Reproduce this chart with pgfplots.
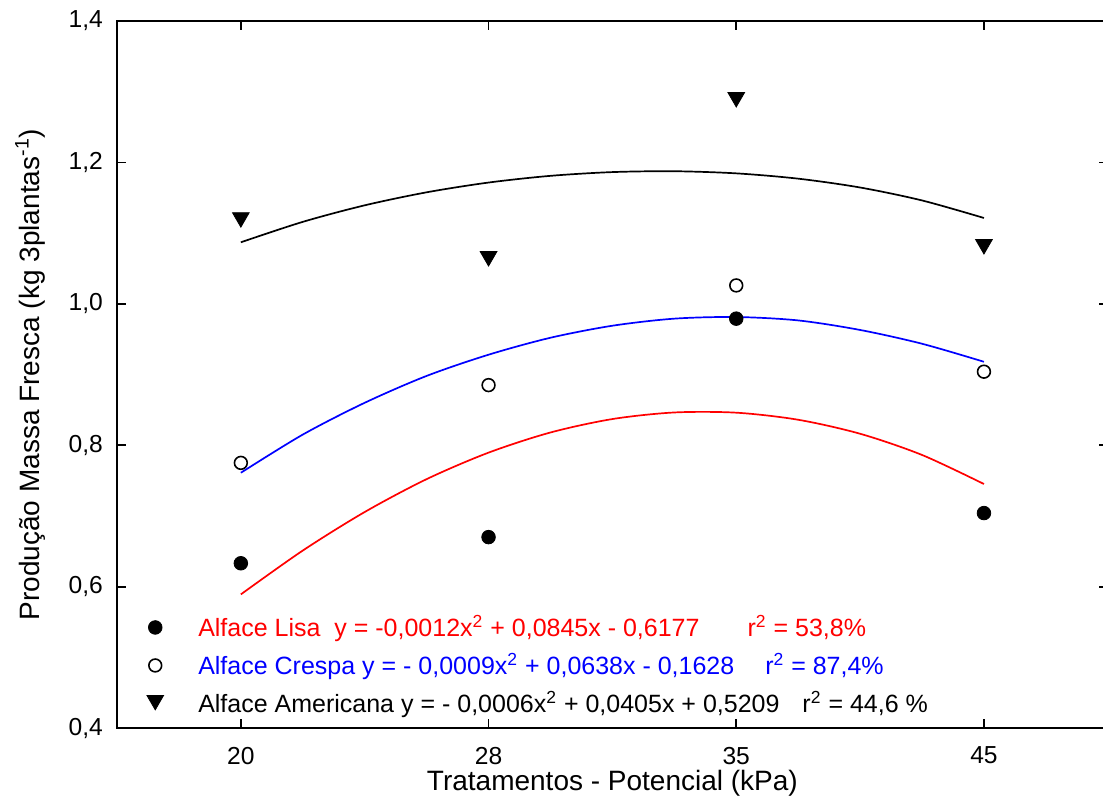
\documentclass[border=0pt]{standalone}
\usepackage{pgfplots}
\pgfplotsset{compat=1.18}
\usepackage{fontspec}
\setmainfont{Liberation Sans}
\pgfplotsset{
  circ legend/.style={legend image code/.code={\path[draw=none] (-8pt,0pt) -- (21.5pt,0pt); \draw[##1] plot coordinates {(0pt,1.6pt)};}},
  tri legend/.style={legend image code/.code={\path[draw=none] (-8pt,0pt) -- (21.5pt,0pt); \draw[##1] plot coordinates {(0pt,3.2pt)};}},
}
\begin{document}
\begin{tikzpicture}
\begin{axis}[
  name=ax,
  scale only axis,
  width=495.4pt, height=353.5pt,
  xmin=0.5, xmax=4.5, ymin=0.4, ymax=1.4,
  xtick={1,2,3,4}, xticklabels={20,28,35,45},
  ytick={0.4,0.6,0.8,1.0,1.2,1.4},
  /pgf/number format/assume math mode=true,
  /pgf/number format/use comma,
  /pgf/number format/fixed,
  /pgf/number format/fixed zerofill,
  /pgf/number format/precision=1,
  tick align=inside,
  xtick pos=both, ytick pos=both,
  major tick length=4.5pt,
  every tick/.style={black, line width=0.9pt},
  axis line style={line width=1pt},
  ticklabel style={font=\fontsize{12.3}{14}\selectfont},
  xticklabel style={anchor=north, yshift=-6pt},
  yticklabel style={anchor=east, xshift=-3.5pt},
  xlabel={Tratamentos - Potencial (kPa)},
  ylabel={Produção Massa Fresca (kg 3plantas\textsuperscript{-1})},
  label style={font=\fontsize{14}{16}\selectfont},
  xlabel style={at={(axis description cs:0.5,-0.0778)}, anchor=center},
  ylabel style={at={(axis description cs:-0.0878,0.5)}, anchor=center},
  legend style={draw=none, fill=none, at={(rel axis cs:0.016,0.007)}, anchor=south west,
    font=\fontsize{12.5}{14}\selectfont, row sep=7pt,
    nodes={inner sep=0pt, text height=9pt, text depth=3pt}},
  legend cell align=left,
]
% fitted curves
\addplot[red, line width=0.85pt, smooth, no marks, forget plot] coordinates {
 (1.0,0.589) (1.25,0.651) (1.5,0.7055) (1.75,0.752) (2.0,0.7895) (2.25,0.818) (2.5,0.837) (2.75,0.8463) (3.0,0.846) (3.25,0.836) (3.5,0.8162) (3.75,0.7862) (4.0,0.7451)};
\addplot[blue, line width=0.85pt, smooth, no marks, forget plot] coordinates {
 (1.0,0.761) (1.25,0.815) (1.5,0.860) (1.75,0.898) (2.0,0.928) (2.25,0.952) (2.5,0.969) (2.75,0.979) (3.0,0.9813) (3.25,0.9765) (3.5,0.963) (3.75,0.9435) (4.0,0.918)};
\addplot[black, line width=0.85pt, smooth, no marks, forget plot] coordinates {
 (1.0,1.087) (1.25,1.1159) (1.5,1.1393) (1.75,1.1577) (2.0,1.1715) (2.25,1.1810) (2.5,1.1863) (2.75,1.1875) (3.0,1.1845) (3.25,1.1770) (3.5,1.1645) (3.75,1.1462) (4.0,1.1214)};
% data
\addplot[only marks, mark=*, mark size=3.4pt, black, circ legend] coordinates {
 (1,0.633) (2,0.670) (3,0.979) (4,0.704)};
\addlegendentry{\textcolor{red}{Alface Lisa\ \ y = -0,0012x\textsuperscript{2} + 0,0845x - 0,6177\hspace{24pt}r\textsuperscript{2} = 53,8\%}}
\addplot[only marks, mark=o, mark size=3.2pt, black, mark options={line width=0.8pt, fill=white}, circ legend] coordinates {
 (1,0.775) (2,0.885) (3,1.026) (4,0.904)};
\addlegendentry{\textcolor{blue}{Alface Crespa y = - 0,0009x\textsuperscript{2} + 0,0638x - 0,1628\hspace{15.5pt}r\textsuperscript{2} = 87,4\%}}
\addplot[only marks, mark=triangle*, mark size=4.8pt, black, mark options={rotate=180}, tri legend] coordinates {
 (1,1.122) (2,1.067) (3,1.292) (4,1.084)};
\addlegendentry{Alface Americana y = - 0,0006x\textsuperscript{2} + 0,0405x + 0,5209\hspace{11.5pt}r\textsuperscript{2} = 44,6 \%}
\end{axis}
\pgfresetboundingbox
\path[use as bounding box] ([xshift=-58.5pt,yshift=-38.5pt]ax.south west) rectangle ([xshift=493pt,yshift=364pt]ax.south west);
\end{tikzpicture}
\end{document}
